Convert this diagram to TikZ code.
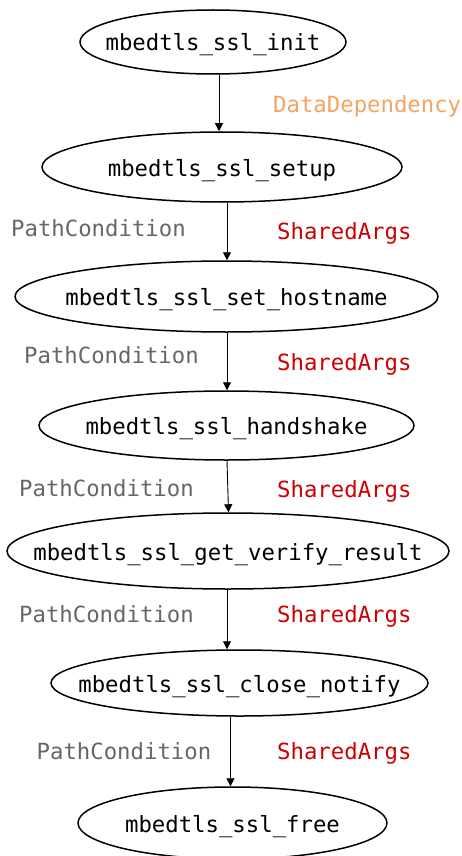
\documentclass[tikz,border=0pt]{standalone}
\usepackage{fontspec}
\setmonofont{DejaVu Sans Mono}
\usetikzlibrary{shapes.geometric,arrows.meta}
\definecolor{dataorange}{HTML}{F4A460}
\definecolor{argsred}{HTML}{CC0000}
\definecolor{pathgray}{HTML}{666666}
\tikzset{
  mono/.style={font=\ttfamily\fontsize{22.3}{26}\selectfont},
  fn/.style n args={3}{draw, ellipse, line width=1.5pt, inner sep=0pt,
    minimum width=#2, minimum height=#3,
    label={[mono, inner sep=0pt, text height=18pt, text depth=0pt]center:#1}},
  arr/.style={line width=0.9pt, -{Triangle[length=8pt,width=8pt]}},
  elabel/.style={mono, inner sep=0pt, anchor=base west},
  datadep/.style={elabel, text=dataorange},
  pathcond/.style={elabel, text=pathgray},
  shargs/.style={elabel, text=argsred},
}
\begin{document}
\begin{tikzpicture}[x=1pt, y=-1pt]
  \useasboundingbox (0,0) rectangle (462,856);

  % call sequence
  \node[fn={mbedtls\_ssl\_init}{266pt}{64pt}] (init) at (213,42) {};
  \node[fn={mbedtls\_ssl\_setup}{360pt}{70pt}] (setup) at (222,167) {};
  \node[fn={mbedtls\_ssl\_set\_hostname}{423pt}{71pt}] (host) at (226.5,296.5) {};
  \node[fn={mbedtls\_ssl\_handshake}{375pt}{69pt}] (hand) at (226.5,425.5) {};
  \node[fn={mbedtls\_ssl\_get\_verify\_result}{442pt}{76pt}] (verify) at (228,551) {};
  \node[fn={mbedtls\_ssl\_close\_notify}{377pt}{66pt}] (close) at (239.5,683) {};
  \node[fn={mbedtls\_ssl\_free}{309pt}{72pt}] (free) at (232.5,823) {};

  % dependencies
  \draw[arr] ([xshift=6pt]init.south) -- ([xshift=-3pt]setup.north);
  \draw[arr] ([xshift=5pt]setup.south) -- ([xshift=0.5pt]host.north);
  \draw[arr] ([xshift=0.5pt]host.south) -- ([xshift=0.5pt]hand.north);
  \draw[arr] ([xshift=0.5pt]hand.south) -- ([xshift=0.5pt]verify.north);
  \draw[arr] ([xshift=-1pt]verify.south) -- ([xshift=-12.5pt]close.north);
  \draw[arr] ([xshift=-9pt]close.south) -- ([xshift=-2pt]free.north);

  % edge labels
  \node[datadep] (l0) at (273,113) {DataDependency};
  \node[pathcond] (p1) at (11,236) {PathCondition};
  \node[shargs] (s1) at (277,239.5) {SharedArgs};
  \node[pathcond] (p2) at (24,363) {PathCondition};
  \node[shargs] (s2) at (277,370) {SharedArgs};
  \node[pathcond] (p3) at (19,496.5) {PathCondition};
  \node[shargs] (s3) at (277,497) {SharedArgs};
  \node[pathcond] (p4) at (19,622.5) {PathCondition};
  \node[shargs] (s4) at (277,622) {SharedArgs};
  \node[pathcond] (p5) at (36.5,759) {PathCondition};
  \node[shargs] (s5) at (277,759) {SharedArgs};
\end{tikzpicture}
\end{document}
